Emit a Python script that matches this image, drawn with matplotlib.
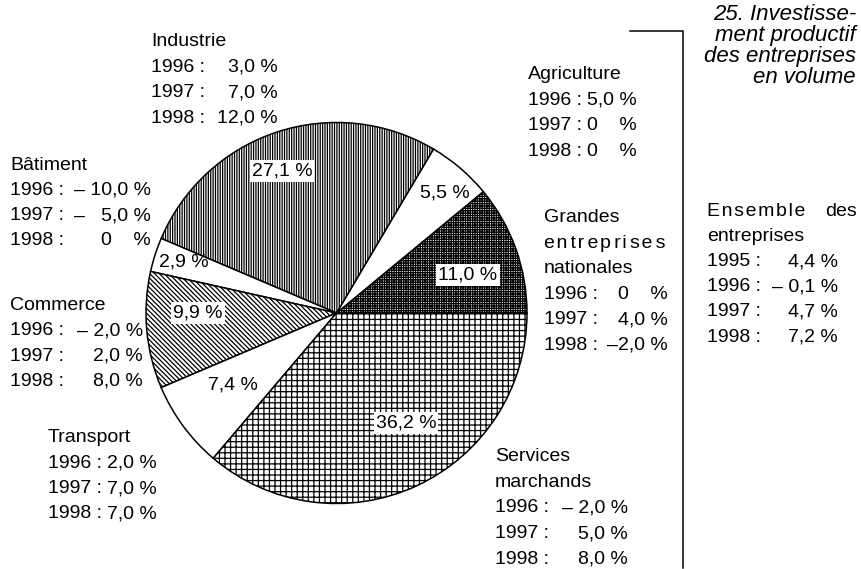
import matplotlib.pyplot as plt

plt.rcParams['font.family'] = ['Liberation Sans', 'DejaVu Sans']
plt.rcParams['hatch.linewidth'] = 0.9

# Répartition de l'investissement par secteur (%), sens anti-horaire depuis 3 h
sectors = ['Grandes entreprises nationales', 'Agriculture', 'Industrie',
           'Bâtiment', 'Commerce', 'Transport', 'Services marchands']
shares = [11.0, 5.5, 27.1, 2.9, 9.9, 7.4, 36.2]

# Évolution en volume par secteur (%)
years = [1996, 1997, 1998]
growth_1996 = [0.0, 5.0, 3.0, -10.0, -2.0, 2.0, -2.0]
growth_1997 = [4.0, 0.0, 7.0, -5.0, 2.0, 7.0, 5.0]
growth_1998 = [-2.0, 0.0, 12.0, 0.0, 8.0, 7.0, 8.0]

# Ensemble des entreprises
total_years = [1995, 1996, 1997, 1998]
total_growth = [4.4, -0.1, 4.7, 7.2]

W, H = 861, 569
FS = 14
HAIR = '\u200a'


def spaced(word, wide=True):
    # letter-spacing with hair spaces (1 or 2 per gap)
    out = ''
    for i, c in enumerate(word[:-1]):
        out += c + HAIR * (1 + (i % 2 if wide else 0))
    return out + word[-1]


def fmt_share(v):
    return f'{v:.1f}'.replace('.', ',') + ' %'


def fmt_growth(v, dash='– ', pad=False):
    if v == 0:
        return '0    %'
    s = f'{abs(v):.1f}'.replace('.', ',') + ' %'
    if v < 0:
        return dash + ('  ' if pad and abs(v) < 10 else '') + s
    return s


# name lines, x left, x right of values, first baseline, line step (pixels from top)
blocks = {
    'Grandes entreprises nationales': (['Grandes', spaced('entreprises'), 'nationales'], 544, 668, 222, 25.6),
    'Agriculture': (['Agriculture'], 528, 637, 79, 25.5),
    'Industrie': (['Industrie'], 151, 278, 46, 25.5),
    'Bâtiment': (['Bâtiment'], 10, 151, 169.5, 25.3),
    'Commerce': (['Commerce'], 10, 143, 310, 25.3),
    'Transport': (['Transport'], 48, 157, 442, 25.5),
    'Services marchands': (['Services', 'marchands'], 495, 628, 461, 25.7),
}
dash_style = {'Grandes entreprises nationales': '–'}

hatches = ['+++++++', '', '|||||||', '', '\\\\\\\\\\\\\\', '', '+++']
pct_pos = [(468, 275), (445, 193), (282, 171), (184, 262), (198, 313), (233, 385), (406, 423)]

cx, cy, r = 336.5, 313, 190.5

fig = plt.figure(figsize=(W / 100, H / 100), dpi=100)
ax = fig.add_axes([0, 0, 1, 1])

wedges, _ = ax.pie(shares, startangle=0, counterclock=True,
                   center=(cx, H - cy), radius=r,
                   colors=['white'] * len(shares),
                   wedgeprops=dict(edgecolor='black', linewidth=1.1))
for w, h in zip(wedges, hatches):
    w.set_hatch(h)

ax.set_xlim(0, W)
ax.set_ylim(0, H)
ax.axis('off')

# share labels
for v, h, (x, y) in zip(shares, hatches, pct_pos):
    box = dict(facecolor='white', edgecolor='none', pad=1.5) if h else None
    ax.text(x, H - y, fmt_share(v), fontsize=FS, ha='center', va='center', bbox=box)

# sector annotations
for i, name in enumerate(sectors):
    lines, x0, xr, y0, step = blocks[name]
    for k, line in enumerate(lines):
        ax.text(x0, H - (y0 + k * step), line, fontsize=FS, ha='left', va='baseline')
    vals = [growth_1996[i], growth_1997[i], growth_1998[i]]
    pad = any(abs(v) >= 10 and v < 0 for v in vals)
    for k, (yr, v) in enumerate(zip(years, vals)):
        yb = H - (y0 + (len(lines) + k) * step)
        ax.text(x0, yb, f'{yr} :', fontsize=FS, ha='left', va='baseline')
        ax.text(xr, yb, fmt_growth(v, dash_style.get(name, '– '), pad),
                fontsize=FS, ha='right', va='baseline')

# bracket
ax.plot([630, 683, 683], [H - 31, H - 31, H - 568], color='black', lw=1.1)

# title
title_lines = ['25. Investisse-', 'ment productif', 'des entreprises', 'en volume']
for k, line in enumerate(title_lines):
    ax.text(856, H - (19.5 + k * 21), line, fontsize=16, style='italic', ha='right', va='baseline')

# whole-economy figures
ax.text(707, H - 216, spaced('Ensemble', wide=False), fontsize=FS, ha='left', va='baseline')
ax.text(857, H - 216, 'des', fontsize=FS, ha='right', va='baseline')
ax.text(707, H - 241, 'entreprises', fontsize=FS, ha='left', va='baseline')
for k, (yr, v) in enumerate(zip(total_years, total_growth)):
    yb = H - (266 + k * 25.2)
    ax.text(707, yb, f'{yr} :', fontsize=FS, ha='left', va='baseline')
    ax.text(838, yb, fmt_growth(v), fontsize=FS, ha='right', va='baseline')

fig.savefig('out.png', dpi=100, facecolor='white')
